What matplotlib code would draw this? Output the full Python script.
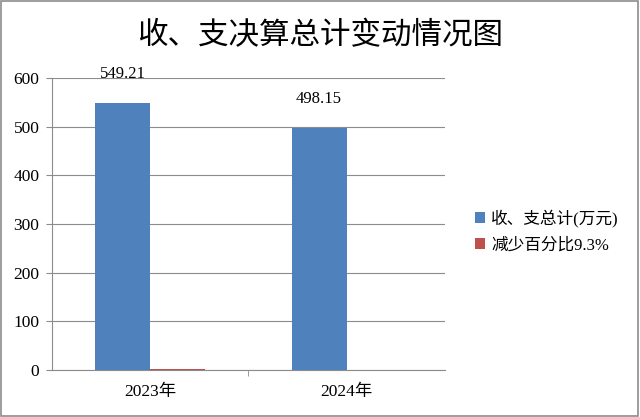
import numpy as np
from matplotlib import pyplot as plt
from matplotlib.patches import Rectangle

plt.rcParams['font.family'] = ['Liberation Serif', 'Noto Sans CJK SC']

years = ['2023年', '2024年']
totals = [549.21, 498.15]
decrease = [2.0, 0.0]   # thin red bar
title = '收、支决算总计变动情况图'
legend_labels = ['收、支总计(万元)', '减少百分比9.3%']

fig = plt.figure(figsize=(6.4, 4.17), dpi=100)
ax = fig.add_axes([0.081, 0.113, 0.614, 0.70])

x = np.arange(len(years))
w = 0.28
b1 = ax.bar(x - w / 2, totals, w, color='#4F81BD', label=legend_labels[0], zorder=3)
b2 = ax.bar(x + w / 2, decrease, w, color='#C0504D', label=legend_labels[1], zorder=3)

for xi, v in zip(x, totals):
    ax.text(xi - w / 2, v + 42, f'{v:.2f}', ha='center', va='bottom', fontsize=12,
            family='Liberation Serif')

ax.set_xlim(-0.5, 1.5)
ax.set_ylim(0, 600)
ax.set_yticks(range(0, 601, 100))
ax.yaxis.grid(True, color='#8c8c8c', linewidth=0.8, zorder=0)
ax.set_xticks(x)
ax.set_xticklabels(years, fontsize=12.5, family=['Liberation Serif', 'Noto Sans CJK SC'])
ax.set_xticks([0.5], minor=True)
ax.tick_params(axis='x', which='major', length=0, pad=10)
ax.tick_params(axis='x', which='minor', length=4, color='#8c8c8c')
ax.tick_params(axis='y', length=4, color='#8c8c8c', labelsize=12.5, pad=5)
for s in ['top', 'right']:
    ax.spines[s].set_visible(False)
for s in ['left', 'bottom']:
    ax.spines[s].set_color('#8c8c8c')

fig.text(0.5, 0.915, title, ha='center', va='center', fontsize=22,
         family=['Noto Sans CJK SC'])

leg = fig.legend(handles=[b1, b2], labels=legend_labels, loc='center left',
                 bbox_to_anchor=(0.718, 0.445), frameon=False, handlelength=0.6,
                 handleheight=0.6, handletextpad=0.4, labelspacing=0.6,
                 prop={'family': ['Liberation Serif', 'Noto Sans CJK SC'], 'size': 12})

fig.patches.append(Rectangle((0.002, 0.003), 0.995, 0.994, transform=fig.transFigure,
                             fill=False, edgecolor='#8c8c8c', linewidth=1.2))

fig.savefig('out.png', dpi=100)
